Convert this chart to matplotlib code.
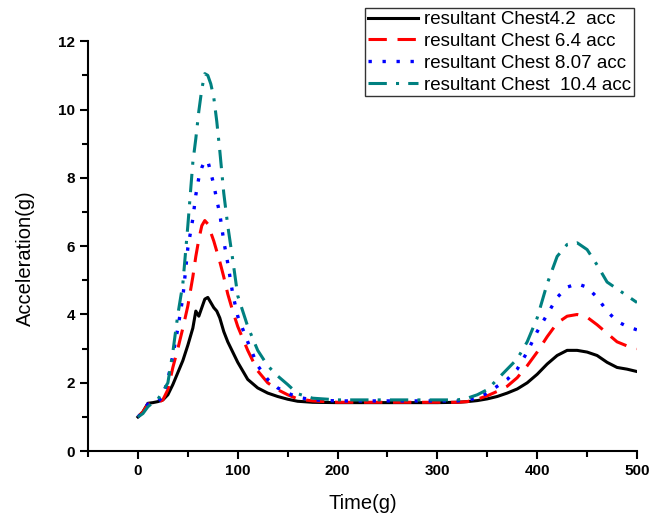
import matplotlib
matplotlib.use('Agg')
import matplotlib.pyplot as plt
from matplotlib.ticker import MultipleLocator

plt.rcParams['font.family'] = ['Liberation Sans', 'DejaVu Sans']

# time samples (ms) shared by every series
time = [0, 5, 10, 15, 20, 25, 30, 35, 40, 45, 50, 55, 58, 61, 64, 67, 70, 73, 76, 79,
        82, 86, 90, 95, 100, 110, 120, 130, 140, 150, 160, 175, 200, 250, 300, 320,
        330, 340, 350, 360, 370, 380, 390, 400, 410, 420, 430, 440, 450, 460, 470,
        480, 490, 500]

chest_4_2 = [1.0, 1.15, 1.4, 1.42, 1.45, 1.5, 1.65, 1.95, 2.3, 2.65, 3.1, 3.6, 4.1,
             3.95, 4.2, 4.45, 4.5, 4.35, 4.2, 4.1, 3.9, 3.5, 3.2, 2.9, 2.6, 2.1, 1.85,
             1.7, 1.6, 1.52, 1.46, 1.43, 1.42, 1.42, 1.42, 1.43, 1.45, 1.48, 1.53,
             1.6, 1.7, 1.82, 2.0, 2.25, 2.55, 2.8, 2.95, 2.95, 2.9, 2.8, 2.6, 2.45,
             2.4, 2.33]

chest_6_4 = [1.0, 1.15, 1.38, 1.4, 1.42, 1.5, 1.8, 2.45, 3.0, 3.6, 4.25, 5.1, 5.7,
             6.2, 6.6, 6.75, 6.65, 6.4, 6.15, 5.85, 5.55, 5.1, 4.6, 4.1, 3.65, 2.95,
             2.35, 2.0, 1.8, 1.65, 1.53, 1.47, 1.43, 1.43, 1.43, 1.43, 1.45, 1.52,
             1.62, 1.75, 1.9, 2.15, 2.5, 2.9, 3.35, 3.75, 3.95, 4.0, 3.92, 3.7, 3.45,
             3.2, 3.08, 3.0]

chest_8_07 = [1.0, 1.15, 1.38, 1.4, 1.45, 1.6, 2.1, 2.8, 3.6, 4.5, 5.95, 6.8, 7.5,
              8.0, 8.3, 8.5, 8.5, 8.15, 7.8, 7.35, 6.95, 6.15, 5.5, 4.6, 3.95, 3.2,
              2.5, 2.1, 1.85, 1.7, 1.58, 1.5, 1.47, 1.47, 1.47, 1.47, 1.5, 1.55, 1.7,
              1.9, 2.1, 2.4, 2.9, 3.5, 4.0, 4.5, 4.8, 4.9, 4.8, 4.5, 4.1, 3.8, 3.65,
              3.55]

chest_10_4 = [1.0, 1.1, 1.3, 1.42, 1.52, 1.75, 2.0, 2.9, 4.0, 4.9, 6.6, 8.45, 9.15,
              9.95, 10.6, 11.05, 11.0, 10.75, 10.35, 9.65, 8.8, 7.55, 6.6, 5.6, 4.55,
              3.65, 2.95, 2.5, 2.2, 1.95, 1.68, 1.55, 1.5, 1.5, 1.5, 1.5, 1.55, 1.65,
              1.8, 2.1, 2.4, 2.7, 3.2, 3.9, 4.9, 5.7, 6.05, 6.1, 5.9, 5.45, 4.95,
              4.75, 4.55, 4.35]

labels = ['resultant Chest4.2  acc', 'resultant Chest 6.4 acc',
          'resultant Chest 8.07 acc', 'resultant Chest  10.4 acc']

fig = plt.figure(figsize=(6.52, 5.15), dpi=100)
ax = fig.add_axes([0.135, 0.124, 0.842, 0.796])

ax.plot(time, chest_4_2, color='black', lw=2.2, label=labels[0])
ax.plot(time, chest_6_4, color='#ff0000', lw=2.2, dashes=(6, 3.5), label=labels[1])
ax.plot(time, chest_8_07, color='#0000ff', lw=2.4, dashes=(1, 3.2), label=labels[2])
ax.plot(time, chest_10_4, color='#008080', lw=2.2, dashes=(6, 3, 1, 3), label=labels[3])

ax.set_xlim(-50, 500)
ax.set_ylim(0, 12)
ax.xaxis.set_major_locator(MultipleLocator(100))
ax.xaxis.set_minor_locator(MultipleLocator(50))
ax.yaxis.set_major_locator(MultipleLocator(2))
ax.yaxis.set_minor_locator(MultipleLocator(1))

for side in ['top', 'right']:
    ax.spines[side].set_visible(False)
for side in ['left', 'bottom']:
    ax.spines[side].set_linewidth(1.5)

ax.tick_params(which='major', direction='out', length=6, width=1.5, labelsize=11)
ax.tick_params(which='minor', direction='out', length=4, width=1.5)
for lab in ax.get_xticklabels() + ax.get_yticklabels():
    lab.set_fontweight('bold')

ax.set_xlabel('Time(g)', fontsize=14.5)
ax.set_ylabel('Acceleration(g)', fontsize=14.5)
ax.xaxis.set_label_coords(0.5, -0.105)
ax.yaxis.set_label_coords(-0.097, 0.47)

leg = ax.legend(loc='upper right', bbox_to_anchor=(0.972, 0.984),
                bbox_transform=fig.transFigure, fontsize=13.5, frameon=True,
                fancybox=False, edgecolor='black', handlelength=2.7,
                handletextpad=0.3, labelspacing=0.25, borderpad=0.15,
                borderaxespad=0)
leg.get_frame().set_linewidth(1.0)

fig.savefig('out.png', dpi=100)
